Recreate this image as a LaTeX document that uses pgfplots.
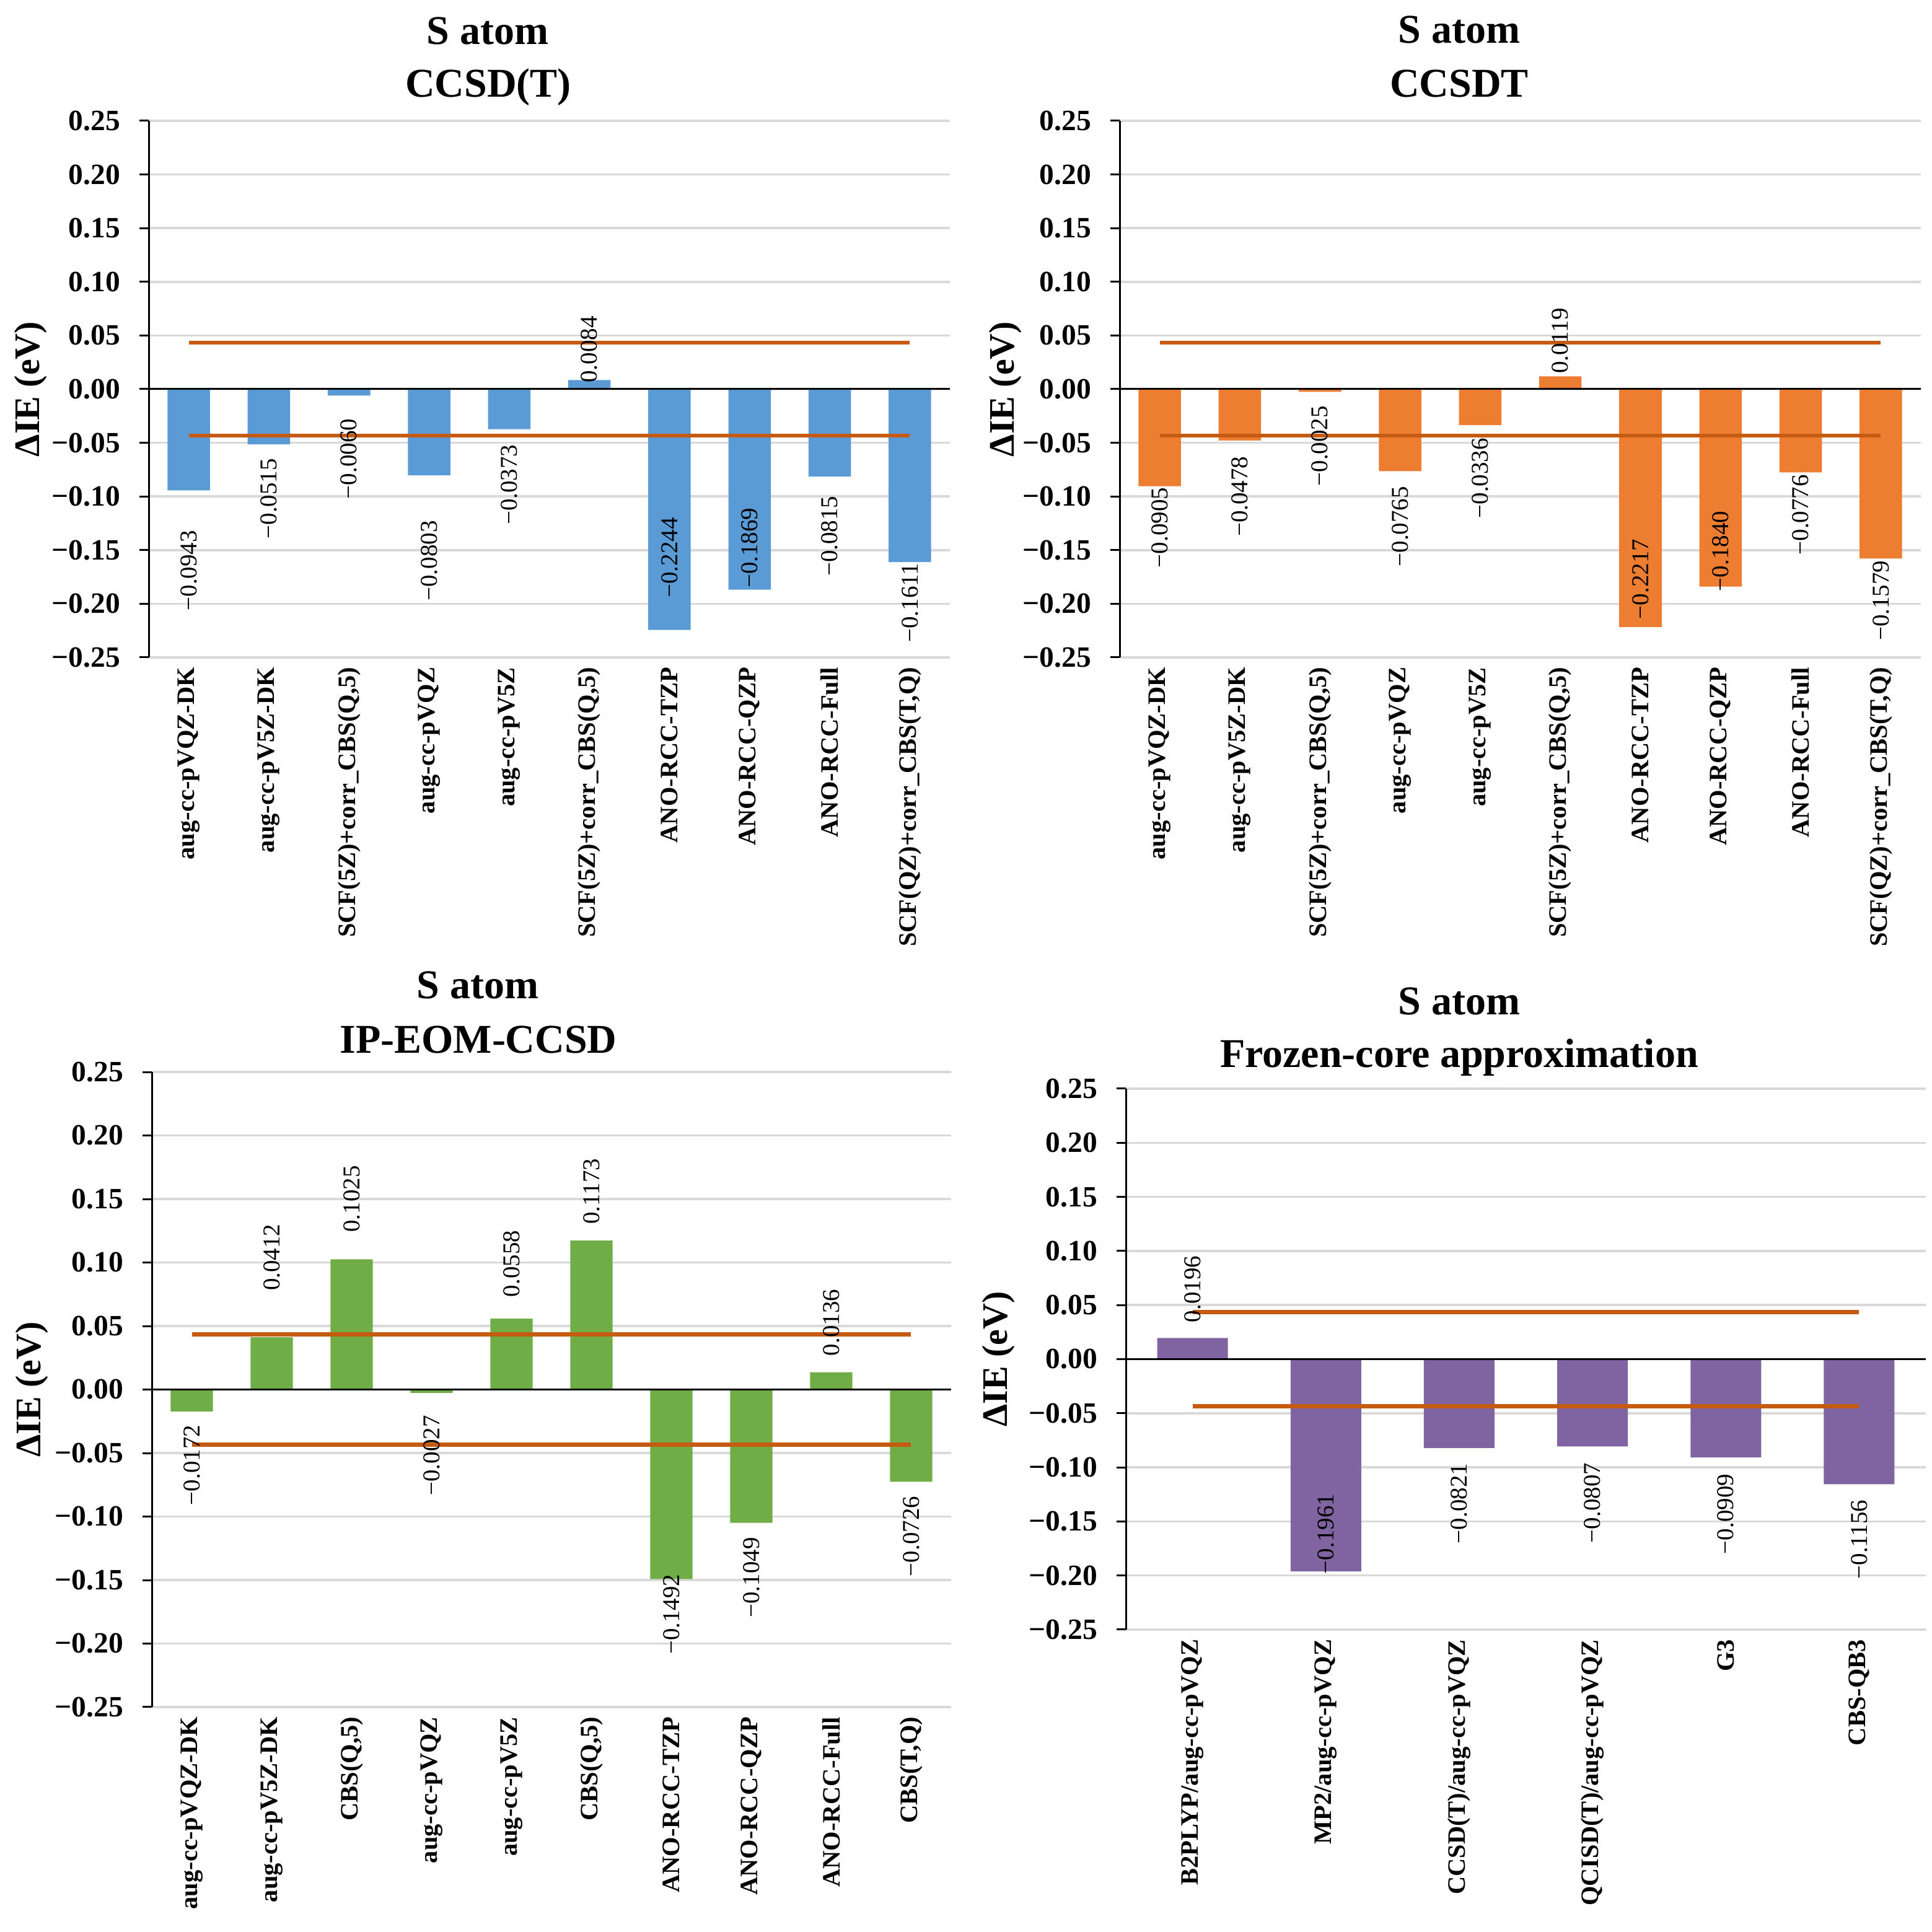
\documentclass[border=0pt]{standalone}
\usepackage{pgfplots}
\pgfplotsset{compat=1.18}
\usepackage{fontspec}
\setmainfont{Liberation Serif}
\definecolor{cblue}{HTML}{5B9BD5}
\definecolor{corange}{HTML}{ED7D31}
\definecolor{cgreen}{HTML}{70AD47}
\definecolor{cpurple}{HTML}{8064A2}
\definecolor{cline}{HTML}{C55A11}
\definecolor{cgrid}{HTML}{D9D9D9}
\newcommand{\tfont}{\fontsize{13.2}{15}\selectfont\bfseries}
\pgfplotsset{
  panel/.style={
    scale only axis,
    anchor=south west,
    clip=false,
    ymin=-0.25, ymax=0.25,
    ytick={-0.25,-0.2,-0.15,-0.1,-0.05,0,0.05,0.1,0.15,0.2,0.25},
    yticklabels={−0.25,−0.20,−0.15,−0.10,−0.05,0.00,0.05,0.10,0.15,0.20,0.25},
    axis lines*=left,
    x axis line style={draw=none},
    y axis line style={black, line width=0.6pt},
    xtick style={draw=none},
    ytick style={black, line width=0.6pt},
    tick align=outside,
    major tick length=3pt,
    ymajorgrids,
    grid style={cgrid, line width=0.7pt},
    yticklabel style={font=\fontsize{9.5}{10}\selectfont\bfseries, inner sep=0pt, xshift=-6pt},
    xticklabel style={font=\fontsize{8.1}{9}\selectfont\bfseries, rotate=90, anchor=east, inner sep=0pt},
    xtick=data,
    every axis y label/.style={font=\fontsize{11.6}{13}\selectfont\bfseries, rotate=90, anchor=center},
    ylabel={ΔIE (eV)},
  },
  vlab/.style={draw=none, mark=none, nodes near coords, point meta=explicit symbolic,
    nodes near coords align=center,
    every node near coord/.append style={rotate=90, anchor=center, font=\fontsize{7.8}{9}\selectfont, text=black, inner sep=0pt}},
}
\begin{document}
\begin{tikzpicture}
\useasboundingbox (0,0) rectangle (623.6pt,623.6pt);
\fill[white] (0,0) rectangle (623.6pt,623.6pt);

% ---------- Top left: CCSD(T)
\node[font=\tfont, anchor=base] at (157.4pt,609.2pt) {S atom};
\node[font=\tfont, anchor=base] at (157.6pt,592.2pt) {CCSD(T)};
\begin{axis}[panel, at={(48pt,411.4pt)}, width=258.6pt, height=173.2pt,
  xmin=-0.5, xmax=9.5,
  every axis y label/.append style={at={(axis description cs:-0.147,0.5)}},
  xticklabels={aug-cc-pVQZ-DK,aug-cc-pV5Z-DK,{SCF(5Z)+corr\_CBS(Q,5)},aug-cc-pVQZ,aug-cc-pV5Z,{SCF(5Z)+corr\_CBS(Q,5)},ANO-RCC-TZP,ANO-RCC-QZP,ANO-RCC-Full,{SCF(QZ)+corr\_CBS(T,Q)}},
]
\addplot[ybar, bar width=0.53, fill=cblue, draw=none] coordinates {
 (0,-0.0943) (1,-0.0515) (2,-0.0060) (3,-0.0803) (4,-0.0373)
 (5,0.0084) (6,-0.2244) (7,-0.1869) (8,-0.0815) (9,-0.1611)};
\addplot[black, line width=0.6pt] coordinates {(-0.5,0) (9.5,0)};
\addplot[cline, line width=1.3pt] coordinates {(0,0.0434) (9,0.0434)};
\addplot[cline, line width=1.3pt] coordinates {(0,-0.0434) (9,-0.0434)};
\addplot[vlab] coordinates {
 (0,-0.169)[−0.0943] (1,-0.102)[−0.0515] (2,-0.065)[−0.0060] (3,-0.160)[−0.0803]
 (4,-0.089)[−0.0373] (5,0.037)[0.0084] (6,-0.157)[−0.2244] (7,-0.148)[−0.1869]
 (8,-0.137)[−0.0815] (9,-0.199)[−0.1611]};
\end{axis}

% ---------- Top right: CCSDT
\node[font=\tfont, anchor=base] at (471pt,609.6pt) {S atom};
\node[font=\tfont, anchor=base] at (471pt,592.2pt) {CCSDT};
\begin{axis}[panel, at={(361.4pt,411.4pt)}, width=258.6pt, height=173.2pt,
  xmin=-0.5, xmax=9.5,
  every axis y label/.append style={at={(axis description cs:-0.143,0.5)}},
  xticklabels={aug-cc-pVQZ-DK,aug-cc-pV5Z-DK,{SCF(5Z)+corr\_CBS(Q,5)},aug-cc-pVQZ,aug-cc-pV5Z,{SCF(5Z)+corr\_CBS(Q,5)},ANO-RCC-TZP,ANO-RCC-QZP,ANO-RCC-Full,{SCF(QZ)+corr\_CBS(T,Q)}},
]
\addplot[ybar, bar width=0.53, fill=corange, draw=none] coordinates {
 (0,-0.0905) (1,-0.0478) (2,-0.0025) (3,-0.0765) (4,-0.0336)
 (5,0.0119) (6,-0.2217) (7,-0.1840) (8,-0.0776) (9,-0.1579)};
\addplot[black, line width=0.6pt] coordinates {(-0.5,0) (9.5,0)};
\addplot[cline, line width=1.3pt] coordinates {(0,0.0434) (9,0.0434)};
\addplot[cline, line width=1.3pt] coordinates {(0,-0.0434) (9,-0.0434)};
\addplot[vlab] coordinates {
 (0,-0.129)[−0.0905] (1,-0.100)[−0.0478] (2,-0.053)[−0.0025] (3,-0.128)[−0.0765]
 (4,-0.083)[−0.0336] (5,0.045)[0.0119] (6,-0.177)[−0.2217] (7,-0.151)[−0.1840]
 (8,-0.117)[−0.0776] (9,-0.197)[−0.1579]};
\end{axis}

% ---------- Bottom left: IP-EOM-CCSD
\node[font=\tfont, anchor=base] at (154.2pt,301.2pt) {S atom};
\node[font=\tfont, anchor=base] at (154.4pt,283.6pt) {IP-EOM-CCSD};
\begin{axis}[panel, at={(49pt,72.6pt)}, width=258pt, height=205pt,
  xmin=-0.5, xmax=9.5,
  every axis y label/.append style={at={(axis description cs:-0.150,0.5)}},
  xticklabels={aug-cc-pVQZ-DK,aug-cc-pV5Z-DK,{CBS(Q,5)},aug-cc-pVQZ,aug-cc-pV5Z,{CBS(Q,5)},ANO-RCC-TZP,ANO-RCC-QZP,ANO-RCC-Full,{CBS(T,Q)}},
]
\addplot[ybar, bar width=0.53, fill=cgreen, draw=none] coordinates {
 (0,-0.0172) (1,0.0412) (2,0.1025) (3,-0.0027) (4,0.0558)
 (5,0.1173) (6,-0.1492) (7,-0.1049) (8,0.0136) (9,-0.0726)};
\addplot[black, line width=0.6pt] coordinates {(-0.5,0) (9.5,0)};
\addplot[cline, line width=1.3pt] coordinates {(0,0.0434) (9,0.0434)};
\addplot[cline, line width=1.3pt] coordinates {(0,-0.0434) (9,-0.0434)};
\addplot[vlab] coordinates {
 (0,-0.0595)[−0.0172] (1,0.104)[0.0412] (2,0.150)[0.1025] (3,-0.052)[−0.0027]
 (4,0.099)[0.0558] (5,0.156)[0.1173] (6,-0.177)[−0.1492] (7,-0.148)[−0.1049]
 (8,0.0527)[0.0136] (9,-0.1156)[−0.0726]};
\end{axis}

% ---------- Bottom right: Frozen-core
\node[font=\tfont, anchor=base] at (471pt,296pt) {S atom};
\node[font=\tfont, anchor=base] at (471pt,279pt) {Frozen-core approximation};
\begin{axis}[panel, at={(363.4pt,97.6pt)}, width=258.2pt, height=174.6pt,
  xmin=-0.5, xmax=5.5,
  every axis y label/.append style={at={(axis description cs:-0.159,0.5)}},
  xticklabels={B2PLYP/aug-cc-pVQZ,MP2/aug-cc-pVQZ,CCSD(T)/aug-cc-pVQZ,QCISD(T)/aug-cc-pVQZ,G3,CBS-QB3},
]
\addplot[ybar, bar width=0.53, fill=cpurple, draw=none] coordinates {
 (0,0.0196) (1,-0.1961) (2,-0.0821) (3,-0.0807) (4,-0.0909) (5,-0.1156)};
\addplot[black, line width=0.6pt] coordinates {(-0.5,0) (5.5,0)};
\addplot[cline, line width=1.3pt] coordinates {(0,0.0434) (5,0.0434)};
\addplot[cline, line width=1.3pt] coordinates {(0,-0.0434) (5,-0.0434)};
\addplot[vlab] coordinates {
 (0,0.0647)[0.0196] (1,-0.1615)[−0.1961] (2,-0.1334)[−0.0821] (3,-0.1329)[−0.0807]
 (4,-0.1432)[−0.0909] (5,-0.1667)[−0.1156]};
\end{axis}
\end{tikzpicture}
\end{document}
